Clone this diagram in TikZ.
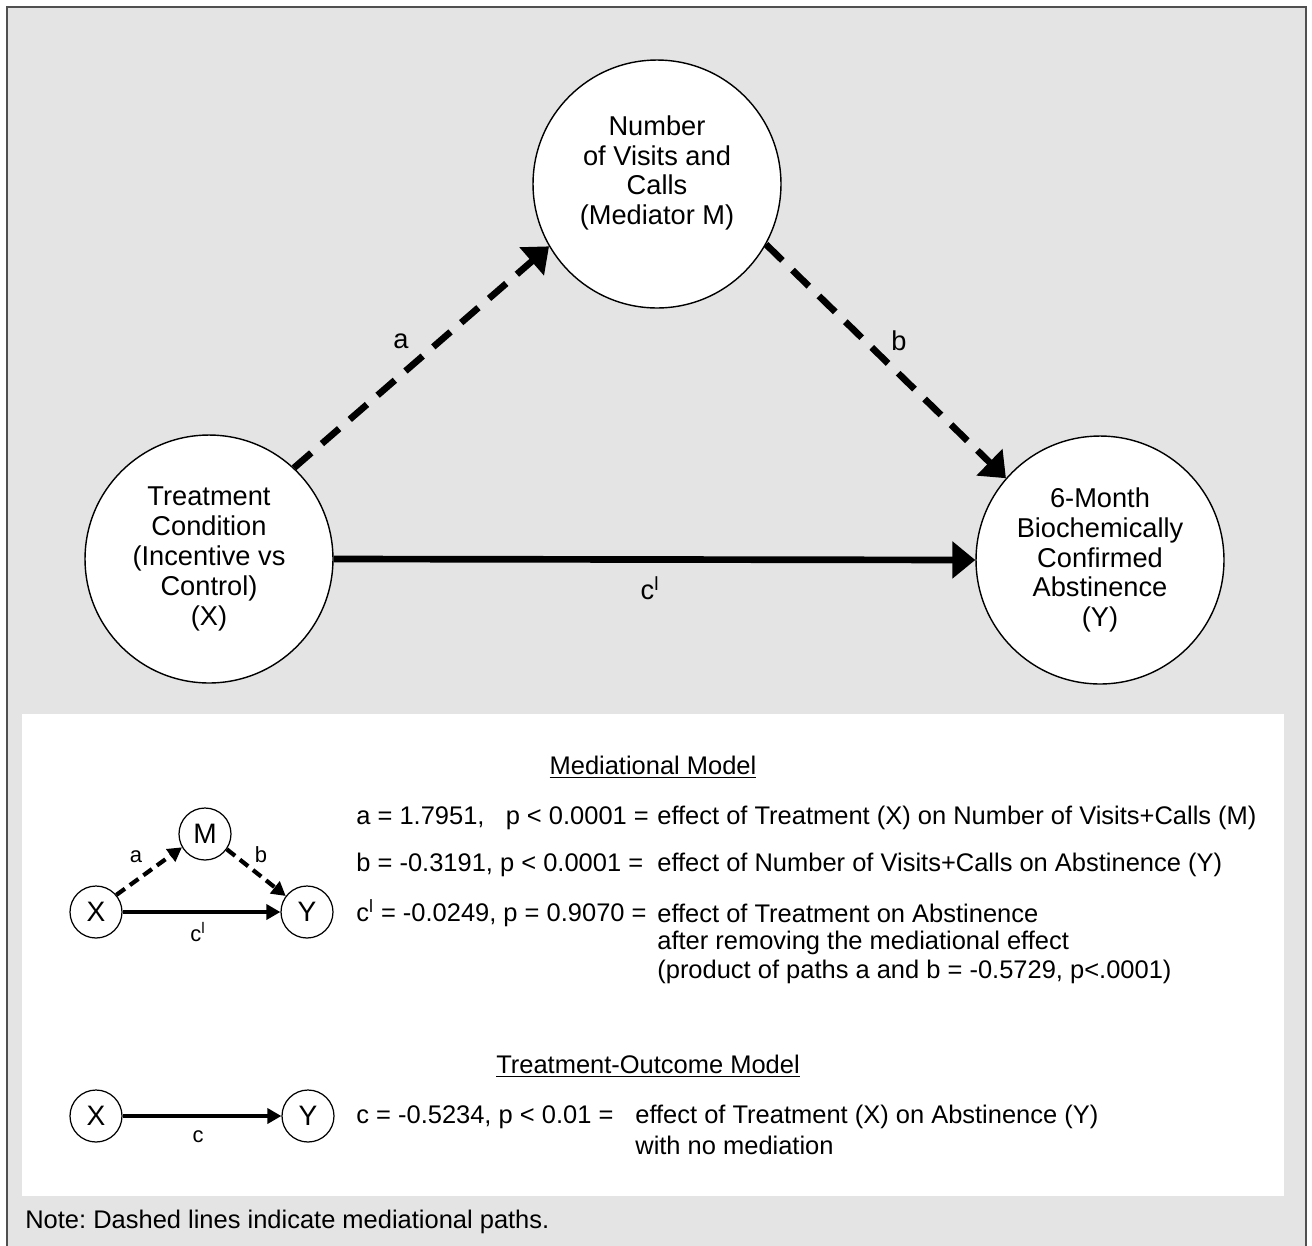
\documentclass[tikz,border=0pt]{standalone}
\usepackage{fontspec}
\setmainfont{Liberation Sans}
\usetikzlibrary{arrows.meta}
\definecolor{panelgray}{RGB}{228,228,228}
\definecolor{framegray}{RGB}{80,80,80}
\frenchspacing

\begin{document}
\begin{tikzpicture}[x=0.02cm,y=-0.02cm,
    bigcirc/.style={circle,draw,fill=white,line width=0.8pt,minimum size=4.96cm,inner sep=0pt,align=center,font=\fontsize{15.5}{17}\selectfont},
    circtext/.style={align=center,inner sep=0pt,font=\fontsize{15.5}{17}\selectfont},
    smallcirc/.style={circle,draw,fill=white,line width=0.7pt,minimum size=1.04cm,inner sep=0pt,font=\fontsize{16}{18}\selectfont},
    medpath/.style={line width=3.8pt,dash pattern=on 13pt off 8pt,-{Triangle[length=0.46cm,width=0.72cm]}},
    directpath/.style={line width=3.8pt,-{Triangle[length=0.46cm,width=0.72cm]}},
    smallmed/.style={line width=2.4pt,dash pattern=on 6pt off 3.5pt,-{Triangle[length=0.28cm,width=0.3cm]}},
    smalldirect/.style={line width=2.4pt,-{Triangle[length=0.28cm,width=0.3cm]}},
    pathlabel/.style={inner sep=0pt,font=\fontsize{15.5}{17}\selectfont},
    smalllabel/.style={inner sep=0pt,font=\fontsize{12.5}{14}\selectfont},
    body/.style={anchor=west,inner sep=0pt,font=\fontsize{14.5}{17}\selectfont},
    heading/.style={inner sep=0pt,font=\fontsize{14.5}{17}\selectfont}]
  \useasboundingbox (0,0) rectangle (1312,1245);
  \clip (0,0) rectangle (1312,1245);
  \draw[framegray,line width=0.045cm,fill=panelgray] (7,7) rectangle (1306,1300);
  \fill[white] (22,714) rectangle (1284,1196);

  \node[bigcirc] (X) at (209,559) {Treatment\\Condition\\(Incentive vs\\Control)\\(X)};
  \node[bigcirc] (M) at (657,184) {};
  \node[circtext] (Mtext) at (657,173) {Number\\of Visits and\\Calls\\(Mediator M)};
  \node[bigcirc] (Y) at (1100,560) {6-Month\\Biochemically\\Confirmed\\Abstinence\\(Y)};
  \draw[medpath] (X.47) -- (M.210);
  \draw[medpath] (M.331) -- (Y.139);
  \draw[directpath] (X.0) -- (Y.180);
  \node[pathlabel] (alabel) at (401,341) {a};
  \node[pathlabel] (blabel) at (899,341) {b};
  \node[pathlabel] (clabel) at (650,588) {c\textsuperscript{l}};

  \node[heading] (medhead) at (653,767) {\underline{Mediational Model}};
  \node[smallcirc] (mx) at (96,912) {X};
  \node[smallcirc] (mm) at (205,834) {M};
  \node[smallcirc] (my) at (307,912) {Y};
  \draw[smallmed] (mx.40) -- (mm.210);
  \draw[smallmed] (mm.325) -- (my.143);
  \draw[smalldirect] (mx.0) -- (my.180);
  \node[smalllabel] (ma) at (136,857) {a};
  \node[smalllabel] (mb) at (261,855) {b};
  \node[smalllabel] (mc) at (198,932) {c\textsuperscript{l}};

  \node[body] (astat) at (356,818) {a = 1.7951,~~ p < 0.0001 =};
  \node[body] (aeff) at (657,818) {effect of Treatment (X) on Number of Visits+Calls (M)};
  \node[body] (bstat) at (356,865) {b = -0.3191, p < 0.0001 =};
  \node[body] (beff) at (657,865) {effect of Number of Visits+Calls on Abstinence (Y)};
  \node[body] (cstat) at (356,913) {c\textsuperscript{l} = -0.0249, p = 0.9070 =};
  \node[body] (ceff) at (657,913) {effect of Treatment on Abstinence};
  \node[body] (ceff2) at (657,943) {after removing the mediational effect};
  \node[body] (ceff3) at (657,972) {(product of paths a and b = -0.5729, p<.0001)};

  \node[heading] (tohead) at (648,1066) {\underline{Treatment-Outcome Model}};
  \node[smallcirc] (tx) at (96,1116) {X};
  \node[smallcirc] (ty) at (308,1116) {Y};
  \draw[smalldirect] (tx.0) -- (ty.180);
  \node[smalllabel] (tc) at (198,1137) {c};
  \node[body] (tstat) at (356,1117) {c = -0.5234, p < 0.01 =};
  \node[body] (teff) at (635,1117) {effect of Treatment (X) on Abstinence (Y)};
  \node[body] (teff2) at (635,1145) {with no mediation};

  \node[body] (note) at (25,1222) {Note: Dashed lines indicate mediational paths.};
\end{tikzpicture}
\end{document}
